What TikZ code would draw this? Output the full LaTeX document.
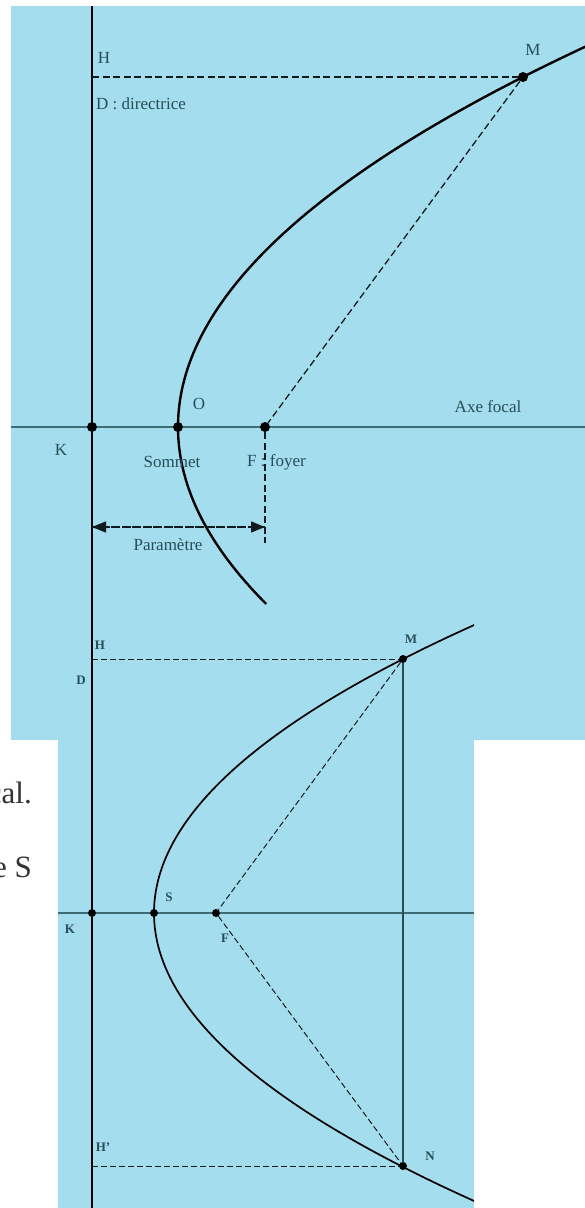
\documentclass[tikz,border=0pt]{standalone}
\usepackage{fontspec}
\setmainfont{Liberation Serif}
\usetikzlibrary{arrows.meta,positioning}
\definecolor{fond}{RGB}{164,221,237}
\definecolor{axecol}{RGB}{60,108,118}
\definecolor{lblcol}{RGB}{38,78,88}
\definecolor{pagetxt}{RGB}{51,51,51}

\begin{document}
\begin{tikzpicture}[x=1pt, y=-1pt,
      every node/.style={text=lblcol, inner sep=0pt},
      pt/.style={circle, fill=black, inner sep=0pt, minimum size=10pt},
      pts/.style={circle, fill=black, inner sep=0pt, minimum size=8pt},
      lb/.style={font=\fontsize{17}{20}\selectfont},
      lbs/.style={font=\fontsize{13}{15}\selectfont\bfseries},
      pg/.style={text=pagetxt, font=\fontsize{31}{36}\selectfont, anchor=base east},
      dir/.style={black, line width=2.4pt},
      dirs/.style={black, line width=1.6pt},
      axe/.style={axecol, line width=2.2pt},
      axes/.style={axecol, line width=1.7pt},
      cb/.style={black, line width=2.4pt},
      cbs/.style={black, line width=1.7pt},
      tir/.style={black!75!axecol, line width=1.3pt, dash pattern=on 7pt off 3.5pt},
      tirs/.style={black!75!axecol, line width=1pt, dash pattern=on 6pt off 3pt},
      pointe/.style={-{Triangle[length=14pt,width=11pt]}}
    ]
    \useasboundingbox (0,0) rectangle (585,1208);
    % panels
    \fill[fond] (11,6) rectangle (585,740);
    \fill[fond] (58,604) rectangle (474,1208);
    % page text
    \node[pg] (t1) at (32,803) {cal.};
    \node[pg] (t2) at (32,877) {e S};

    % ---- first figure ----
    \node[pt] (K) at (92,427) {};
    \node[pt] (O) at (178,427) {};
    \node[pt] (F) at (265,427) {};
    \node[pt] (M) at (523,77) {};
    \coordinate (d1) at (92,6);
    \coordinate (d2) at (92,604);
    \coordinate (a1) at (11,427);
    \coordinate (a2) at (585,427);
    \coordinate (h) at (92,77);
    \coordinate (p1) at (92,527);
    \coordinate (p2) at (265,527);
    \coordinate (f2) at (265,543);
    % lines
    \draw[dir] (d1) -- (K) -- (d2);
    \draw[axe] (a1) -- (K) -- (O) -- (F) -- (a2);
    \draw[cb] plot[domain=-3.85:1.77, samples=90, smooth] ({178+28.16*\x*\x},{427+100*\x});
    \draw[tir] (h) -- (M);
    \draw[tir] (M) -- (F);
    \draw[tir] (F) -- (f2);
    \draw[tir, pointe] (p2) -- (p1);
    \draw[tir, pointe] (p1) -- (p2);
    % labels
    \node[lb] (lH) at (104,58) {H};
    \node[lb, anchor=west] (lD) at (96,104) {D : directrice};
    \node[lb] (lM) at (533,50) {M};
    \node[lb] (lO) at (199,404) {O};
    \node[lb] (lK) at (61,450) {K};
    \node[lb] (lS) at (172,462) {Sommet};
    \node[lb, anchor=west] (lF) at (247,462) {F : foyer};
    \node[lb] (lP) at (168,545) {Paramètre};
    \node[lb] (lA) at (488,407) {Axe focal};

    % ---- second figure ----
    \node[pts] (Kb) at (92,913) {};
    \node[pts] (Sb) at (154,913) {};
    \node[pts] (Fb) at (216,913) {};
    \node[pts] (Mb) at (403,659) {};
    \node[pts] (Nb) at (403,1166) {};
    \coordinate (e1) at (92,604);
    \coordinate (e2) at (92,1208);
    \coordinate (b1) at (58,913);
    \coordinate (b2) at (474,913);
    \coordinate (hb) at (92,659);
    \coordinate (hh) at (92,1166);
    % lines
    \draw[dirs] (e1) -- (Kb) -- (e2);
    \draw[axes] (b1) -- (Kb) -- (Sb) -- (Fb) -- (b2);
    \begin{scope}
      \clip (58,604) rectangle (474,1208);
      \draw[cbs] plot[domain=-3:3, samples=90, smooth] ({154+38.6*\x*\x},{913+100*\x});
    \end{scope}
    \draw[axecol!70!black, line width=1.1pt] (Mb) -- (Nb);
    \draw[tirs] (hb) -- (Mb);
    \draw[tirs] (hh) -- (Nb);
    \draw[tirs] (Mb) -- (Fb);
    \draw[tirs] (Fb) -- (Nb);
    % labels
    \node[lbs] (lHb) at (100,645) {H};
    \node[lbs] (lDb) at (81,680) {D};
    \node[lbs] (lKb) at (70,929) {K};
    \node[lbs] (lSb) at (169,897) {S};
    \node[lbs] (lFb) at (225,938) {F};
    \node[lbs] (lMb) at (411,639) {M};
    \node[lbs] (lNb) at (430,1156) {N};
    \node[lbs] (lHh) at (103,1147) {H'};
\end{tikzpicture}
\end{document}
